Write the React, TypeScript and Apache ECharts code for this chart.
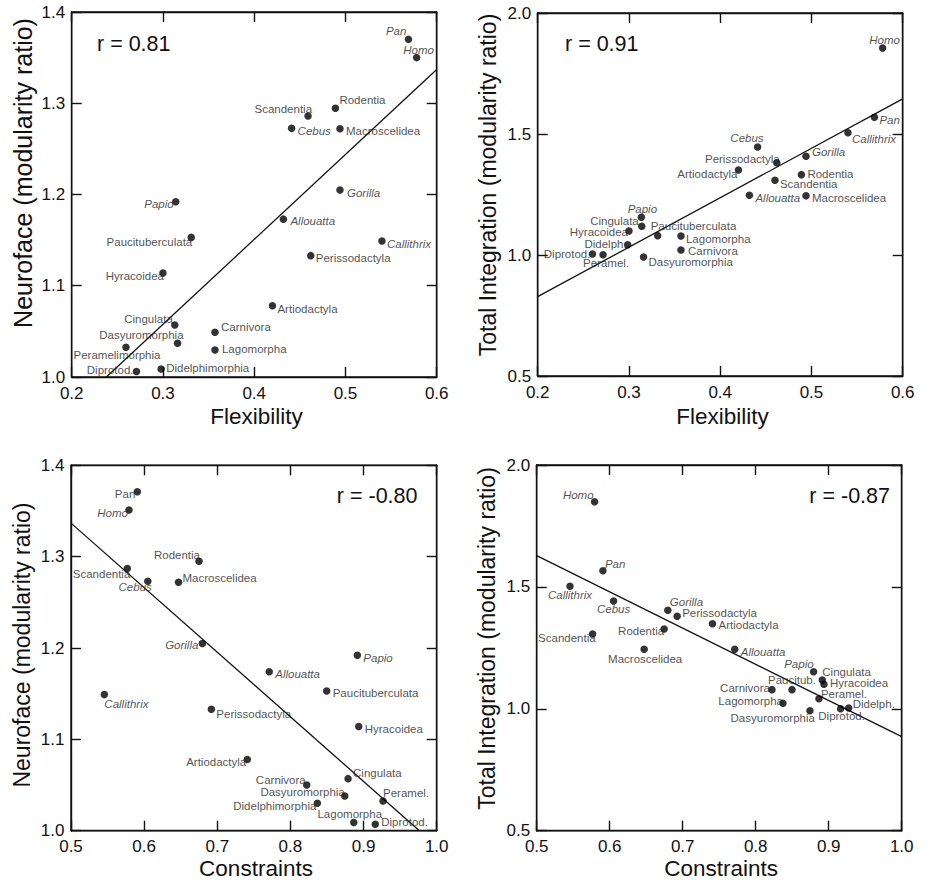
import React, { useEffect, useRef } from "react";
import * as echarts from "echarts";

// ---------- DATA ----------
// Panel 1: Neuroface vs Flexibility
const p1Names = ["Pan", "Homo", "Rodentia", "Scandentia", "Cebus", "Macroscelidea", "Gorilla", "Papio", "Allouatta", "Paucituberculata", "Callithrix", "Perissodactyla", "Hyracoidea", "Artiodactyla", "Cingulata", "Carnivora", "Dasyuromorphia", "Peramelimorphia", "Lagomorpha", "Didelphimorphia", "Diprotod."];
const p1X = [0.569, 0.578, 0.489, 0.459, 0.441, 0.494, 0.494, 0.314, 0.432, 0.331, 0.540, 0.462, 0.300, 0.420, 0.313, 0.357, 0.316, 0.2595, 0.357, 0.298, 0.271];
const p1Y = [1.370, 1.350, 1.2945, 1.286, 1.2725, 1.272, 1.205, 1.192, 1.173, 1.153, 1.149, 1.133, 1.114, 1.078, 1.057, 1.049, 1.037, 1.0325, 1.0296, 1.0088, 1.006];
const p1Line = [[0.238, 1.0], [0.6, 1.337]];
const p1R = "r = 0.81";

// Panel 2: Total Integration vs Flexibility
const p2Names = ["Homo", "Pan", "Callithrix", "Cebus", "Gorilla", "Perissodactyla", "Artiodactyla", "Rodentia", "Scandentia", "Allouatta", "Macroscelidea", "Papio", "Cingulata", "Hyracoidea", "Paucituberculata", "Lagomorpha", "Didelph.", "Carnivora", "Diprotod.", "Peramel.", "Dasyuromorphia"];
const p2X = [0.578, 0.569, 0.540, 0.441, 0.494, 0.462, 0.420, 0.489, 0.460, 0.432, 0.494, 0.3136, 0.314, 0.300, 0.3315, 0.357, 0.2986, 0.357, 0.260, 0.2716, 0.316];
const p2Y = [1.855, 1.569, 1.505, 1.446, 1.408, 1.381, 1.351, 1.332, 1.309, 1.247, 1.245, 1.156, 1.119, 1.099, 1.080, 1.0785, 1.0426, 1.0207, 1.004, 1.001, 0.9917];
const p2Line = [[0.2, 0.828], [0.6, 1.645]];
const p2R = "r = 0.91";

// Panel 3: Neuroface vs Constraints
const p3Names = ["Pan", "Homo", "Rodentia", "Scandentia", "Cebus", "Macroscelidea", "Gorilla", "Papio", "Allouatta", "Paucituberculata", "Callithrix", "Perissodactyla", "Hyracoidea", "Artiodactyla", "Cingulata", "Carnivora", "Dasyuromorphia", "Peramel.", "Didelphimorphia", "Lagomorpha", "Diprotod."];
const p3X = [0.5907, 0.5793, 0.675, 0.577, 0.605, 0.647, 0.6796, 0.8915, 0.771, 0.8496, 0.5456, 0.6919, 0.8934, 0.741, 0.8788, 0.8223, 0.8743, 0.9266, 0.8368, 0.8866, 0.916];
const p3Y = [1.371, 1.351, 1.295, 1.287, 1.273, 1.272, 1.205, 1.192, 1.174, 1.153, 1.149, 1.133, 1.114, 1.078, 1.057, 1.050, 1.038, 1.0325, 1.030, 1.009, 1.007];
const p3Line = [[0.5, 1.3367], [0.9763, 1.0]];
const p3R = "r = -0.80";

// Panel 4: Total Integration vs Constraints
const p4Names = ["Homo", "Pan", "Callithrix", "Cebus", "Gorilla", "Perissodactyla", "Artiodactyla", "Rodentia", "Scandentia", "Macroscelidea", "Allouatta", "Papio", "Cingulata", "Hyracoidea", "Paucitub.", "Carnivora", "Peramel.", "Lagomorpha", "Didelph.", "Diprotod.", "Dasyuromorphia"];
const p4X = [0.5793, 0.5907, 0.5456, 0.6053, 0.6796, 0.6924, 0.7408, 0.6746, 0.5766, 0.6472, 0.7713, 0.8793, 0.8912, 0.8935, 0.8497, 0.8223, 0.8866, 0.8373, 0.9273, 0.9163, 0.8743];
const p4Y = [1.8495, 1.5665, 1.5025, 1.442, 1.404, 1.3795, 1.349, 1.327, 1.307, 1.244, 1.244, 1.152, 1.118, 1.1005, 1.0785, 1.0785, 1.0415, 1.0225, 1.003, 1.0004, 0.992];
const p4Line = [[0.5, 1.628], [1.0, 0.8856]];
const p4R = "r = -0.87";

const genera = ["Pan", "Homo", "Cebus", "Gorilla", "Papio", "Allouatta", "Callithrix"];
const xTitleFlex = "Flexibility";
const xTitleCons = "Constraints";
const yTitleNeuro = "Neuroface (modularity ratio)";
const yTitleTotal = "Total Integration (modularity ratio)";

// ---------- LAYOUT (label placement: align, dx, dy) ----------
type LP = [string, number, number];
const p1Lab: LP[] = [["right", -2, -8], ["center", 2, -8], ["left", 4, -8], ["right", 4, -7], ["left", 6, 3], ["left", 6, 2], ["left", 7, 3], ["right", -2, 2], ["left", 7, 2], ["right", 1, 5], ["left", 5, 3], ["left", 5, 2], ["right", 1, 3], ["left", 5, 3], ["right", -2, -6], ["left", 6, -5], ["right", 6, -8], ["center", -9, 8], ["left", 7, -1], ["left", 5, -1], ["right", -3, -2]];
const p2Lab: LP[] = [["center", 2, -8], ["left", 5, 3], ["left", 4, 6], ["right", 6, -9], ["left", 6, -4], ["right", 3, -4], ["right", -1, 4], ["left", 6, -1], ["left", 5, 4], ["left", 6, 3], ["left", 6, 2], ["center", 1, -8], ["right", -3, -5], ["right", -1, 1], ["left", -7, -10], ["left", 5, 3], ["right", -1, -1], ["left", 7, 1], ["right", -2, 0], ["center", 3, 8], ["left", 5, 5]];
const p3Lab: LP[] = [["right", -2, 2], ["right", -1, 3], ["right", 1, -6], ["right", 3, 5], ["right", 4, 6], ["left", 4, -4], ["right", -4, 2], ["left", 6, 3], ["left", 6, 2], ["left", 6, 2], ["left", 0, 9], ["left", 5, 5], ["left", 6, 2], ["right", -1, 3], ["left", 5, -6], ["right", -1, -5], ["right", 0, -4], ["left", 0, -8], ["right", -1, 3], ["center", -4, -8], ["left", 6, -2]];
const p4Lab: LP[] = [["right", -1, -7], ["left", 2, -7], ["center", 0, 9], ["center", 0, 8], ["left", 2, -8], ["left", 5, -3], ["left", 6, 1], ["right", 0, 2], ["right", 3, 4], ["center", 1, 10], ["left", 6, 3], ["right", 0, -8], ["left", 0, -8], ["left", 6, -1], ["center", 0, -10], ["right", -2, -2], ["left", 2, -5], ["right", 0, -2], ["left", 4, -4], ["center", 1, 7], ["right", 5, 7]];

const FONT = '"Liberation Sans", Arial, Helvetica, sans-serif';
const INK = "#111";

type Panel = {
  names: string[]; xs: number[]; ys: number[]; line: number[][]; lab: LP[];
  xMin: number; xMax: number; xInt: number; yMin: number; yMax: number; yInt: number;
  grid: { left: number; top: number; width: number; height: number };
  upright?: string[];
};

const panels: Panel[] = [
  { names: p1Names, xs: p1X, ys: p1Y, line: p1Line, lab: p1Lab, xMin: 0.2, xMax: 0.6, xInt: 0.1, yMin: 1.0, yMax: 1.4, yInt: 0.1, grid: { left: 71.7, top: 12, width: 365, height: 365 } },
  { names: p2Names, xs: p2X, ys: p2Y, line: p2Line, lab: p2Lab, xMin: 0.2, xMax: 0.6, xInt: 0.1, yMin: 0.5, yMax: 2.0, yInt: 0.5, grid: { left: 537.7, top: 13, width: 365, height: 363 } },
  { names: p3Names, xs: p3X, ys: p3Y, line: p3Line, lab: p3Lab, xMin: 0.5, xMax: 1.0, xInt: 0.1, yMin: 1.0, yMax: 1.4, yInt: 0.1, grid: { left: 71, top: 465.3, width: 365.7, height: 365.4 }, upright: ["Pan"] },
  { names: p4Names, xs: p4X, ys: p4Y, line: p4Line, lab: p4Lab, xMin: 0.5, xMax: 1.0, xInt: 0.1, yMin: 0.5, yMax: 2.0, yInt: 0.5, grid: { left: 536.7, top: 465, width: 365, height: 365.7 } },
];

function buildOption() {
  const grid: any[] = [];
  const xAxis: any[] = [];
  const yAxis: any[] = [];
  const series: any[] = [];
  const tick = { show: true, inside: true, length: 10, lineStyle: { color: INK, width: 1.4 } };
  const aLine = { show: true, lineStyle: { color: INK, width: 1.4 } };
  const fmt = (v: number) => v.toFixed(1);

  panels.forEach((p, i) => {
    grid.push({ ...p.grid, show: true, borderColor: INK, borderWidth: 1.4, backgroundColor: "transparent", containLabel: false });
    const xBase = { type: "value", gridIndex: i, min: p.xMin, max: p.xMax, interval: p.xInt, splitLine: { show: false }, axisLine: aLine, axisTick: tick };
    const yBase = { type: "value", gridIndex: i, min: p.yMin, max: p.yMax, interval: p.yInt, splitLine: { show: false }, axisLine: aLine, axisTick: tick };
    xAxis.push({ ...xBase, position: "bottom", axisLabel: { show: true, margin: 7.5, fontSize: 17, color: INK, fontFamily: FONT, formatter: fmt } });
    xAxis.push({ ...xBase, position: "top", axisLabel: { show: false } });
    yAxis.push({ ...yBase, position: "left", axisLabel: { show: true, margin: 6.5, fontSize: 17, color: INK, fontFamily: FONT, formatter: fmt } });
    yAxis.push({ ...yBase, position: "right", axisLabel: { show: false } });

    series.push({
      type: "line",
      xAxisIndex: 2 * i,
      yAxisIndex: 2 * i,
      data: p.line,
      symbol: "none",
      lineStyle: { color: INK, width: 1.3 },
      silent: true,
      z: 2,
    });

    series.push({
      type: "scatter",
      xAxisIndex: 2 * i,
      yAxisIndex: 2 * i,
      symbolSize: 7.5,
      itemStyle: { color: "#000" },
      silent: true,
      z: 3,
      label: {
        show: true,
        position: "inside",
        formatter: "{b}",
        fontSize: 11.5,
        fontFamily: FONT,
        color: "#1e1e1e",
        verticalAlign: "middle",
      },
      data: p.names.map((n, k) => {
        const [align, dx, dy] = p.lab[k];
        const italic = genera.includes(n) && !(p.upright || []).includes(n);
        return {
          name: n,
          value: [p.xs[k], p.ys[k]],
          label: { align, offset: [dx, dy], fontStyle: italic ? "italic" : "normal" },
        };
      }),
    });
  });

  const txt = (text: string, x: number, y: number, size: number, align: string, rot = 0) => ({
    type: "text",
    x,
    y,
    rotation: rot,
    silent: true,
    style: { text, fontSize: size, fontFamily: FONT, fill: INK, align, verticalAlign: "middle" },
  });

  const graphic = [
    txt(xTitleFlex, 256.5, 416.7, 22.5, "center"),
    txt(xTitleFlex, 722.5, 416.7, 22.5, "center"),
    txt(xTitleCons, 256, 868.3, 22.5, "center"),
    txt(xTitleCons, 721.2, 868.3, 22.5, "center"),
    txt(yTitleNeuro, 23, 173, 25, "center", Math.PI / 2),
    txt(yTitleTotal, 488, 185, 23, "center", Math.PI / 2),
    txt(yTitleNeuro, 22, 645, 23, "center", Math.PI / 2),
    txt(yTitleTotal, 487, 638.5, 23, "center", Math.PI / 2),
    txt(p1R, 97, 44, 21.5, "left"),
    txt(p2R, 565, 43.5, 21.5, "left"),
    txt(p3R, 417.5, 495.7, 21.5, "right"),
    txt(p4R, 890, 495.7, 21.5, "right"),
  ];

  return { animation: false, backgroundColor: "#fff", grid, xAxis, yAxis, series, graphic };
}

export default function App() {
  const ref = useRef<HTMLDivElement>(null);
  useEffect(() => {
    if (!ref.current) return;
    const chart = echarts.init(ref.current, undefined, { renderer: "svg" });
    chart.setOption(buildOption() as any);
    return () => chart.dispose();
  }, []);
  return (
    <div
      ref={ref}
      style={{ position: "absolute", left: 0, top: 0, width: 930, height: 880, background: "#fff" }}
    />
  );
}
